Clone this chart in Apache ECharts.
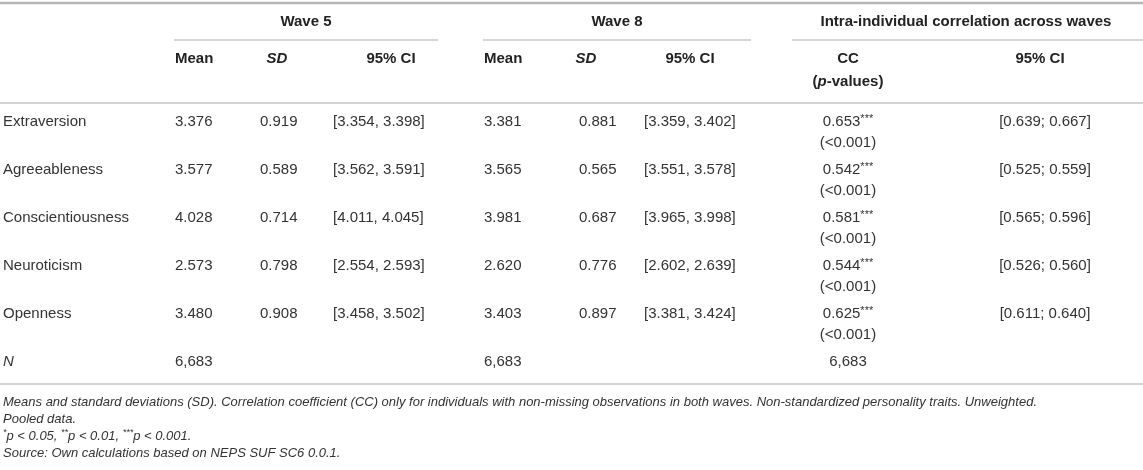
<!DOCTYPE html>
<html>
<head>
    <meta charset="utf-8">
    <title>Personality traits across waves</title>
    <script src="https://cdn.jsdelivr.net/npm/echarts@6/dist/echarts.min.js"></script>
    <style>
        html, body { margin: 0; padding: 0; background: #fff; }
        #table { width: 1143px; height: 470px; }
    </style>
</head>
<body>
    <div id="table"></div>
    <script>
        // table data
        const traits = ['Extraversion', 'Agreeableness', 'Conscientiousness', 'Neuroticism', 'Openness'];
        const w5Mean = ['3.376', '3.577', '4.028', '2.573', '3.480'];
        const w5SD = ['0.919', '0.589', '0.714', '0.798', '0.908'];
        const w5CI = ['[3.354, 3.398]', '[3.562, 3.591]', '[4.011, 4.045]', '[2.554, 2.593]', '[3.458, 3.502]'];
        const w8Mean = ['3.381', '3.565', '3.981', '2.620', '3.403'];
        const w8SD = ['0.881', '0.565', '0.687', '0.776', '0.897'];
        const w8CI = ['[3.359, 3.402]', '[3.551, 3.578]', '[3.965, 3.998]', '[2.602, 2.639]', '[3.381, 3.424]'];
        const ccValue = ['0.653', '0.542', '0.581', '0.544', '0.625'];
        const ccStars = ['***', '***', '***', '***', '***'];
        const ccP = ['(<0.001)', '(<0.001)', '(<0.001)', '(<0.001)', '(<0.001)'];
        const ccCI = ['[0.639; 0.667]', '[0.525; 0.559]', '[0.565; 0.596]', '[0.526; 0.560]', '[0.611; 0.640]'];
        const nCount = ['6,683', '6,683', '6,683'];
        const spanHeaders = ['Wave 5', 'Wave 8', 'Intra-individual correlation across waves'];

        const FONT = '"Liberation Sans", Arial, Helvetica, sans-serif';
        const TXT = '#333';
        const W = 1143;

        // layout
        const spans = [[174, 438], [483, 751], [792, 1143]];
        const rowY0 = 122, rowStep = 48, subStep = 21;
        const colLeft = { label: 3, m5: 175, sd5: 260, ci5: 333, m8: 484, sd8: 579, ci8: 644 };
        const ccX = 848, cciX = 1045;

        const g = [];
        function hline(y, x1, x2, color, w) {
            g.push({ type: 'line', shape: { x1: x1, y1: y, x2: x2, y2: y },
                     style: { stroke: color, lineWidth: w }, silent: true });
        }
        function text(str, x, y, align, opt) {
            opt = opt || {};
            g.push({ type: 'text', silent: true, style: Object.assign({
                text: str, x: x, y: y, align: align, verticalAlign: 'middle',
                fill: TXT, fontFamily: FONT, fontSize: 15
            }, opt) });
        }
        const bold = { fontWeight: 'bold', fill: '#222' };

        // rules
        hline(3, 0, W, '#b5b5b5', 2.5);
        spans.forEach(s => hline(40, s[0], s[1], '#c9c9c9', 1.5));
        hline(103, 0, W, '#c4c4c4', 1.5);
        hline(384, 0, W, '#c4c4c4', 1.5);

        // header
        spanHeaders.forEach((h, i) => text(h, i < 2 ? (spans[i][0] + spans[i][1]) / 2 : 966, 22, 'center', bold));
        text('Mean', colLeft.m5, 59, 'left', bold);
        text('SD', 277, 59, 'center', Object.assign({ fontStyle: 'italic' }, bold));
        text('95% CI', 391, 59, 'center', bold);
        text('Mean', colLeft.m8, 59, 'left', bold);
        text('SD', 586, 59, 'center', Object.assign({ fontStyle: 'italic' }, bold));
        text('95% CI', 690, 59, 'center', bold);
        text('CC', ccX, 59, 'center', bold);
        text('{b|(}{i|p}{b|-values)}', ccX, 82, 'center', {
            fontWeight: 'bold', fill: '#222',
            rich: {
                b: { fontFamily: FONT, fontSize: 15, fontWeight: 'bold', fill: '#222' },
                i: { fontFamily: FONT, fontSize: 15, fontWeight: 'bold', fontStyle: 'italic', fill: '#222' }
            }
        });
        text('95% CI', 1040, 59, 'center', bold);

        // body rows
        traits.forEach((t, i) => {
            const y = rowY0 + i * rowStep;
            text(t, colLeft.label, y, 'left');
            text(w5Mean[i], colLeft.m5, y, 'left');
            text(w5SD[i], colLeft.sd5, y, 'left');
            text(w5CI[i], colLeft.ci5, y, 'left');
            text(w8Mean[i], colLeft.m8, y, 'left');
            text(w8SD[i], colLeft.sd8, y, 'left');
            text(w8CI[i], colLeft.ci8, y, 'left');
            text('{v|' + ccValue[i] + '}{s|' + ccStars[i] + '}', ccX, y, 'center', {
                rich: {
                    v: { fontFamily: FONT, fontSize: 15, fill: TXT, lineHeight: 18 },
                    s: { fontFamily: FONT, fontSize: 11, fill: TXT, lineHeight: 10, verticalAlign: 'top' }
                }
            });
            text(ccP[i], ccX, y + subStep, 'center');
            text(ccCI[i], cciX, y, 'center');
        });

        // N row
        const nY = rowY0 + traits.length * rowStep;
        text('N', colLeft.label, nY, 'left', { fontStyle: 'italic' });
        text(nCount[0], colLeft.m5, nY, 'left');
        text(nCount[1], colLeft.m8, nY, 'left');
        text(nCount[2], ccX, nY, 'center');

        // notes
        const noteStyle = { fontSize: 13, fontStyle: 'italic' };
        text('Means and standard deviations (SD). Correlation coefficient (CC) only for individuals with non-missing observations in both waves. Non-standardized personality traits. Unweighted.', 3, 402, 'left', noteStyle);
        text('Pooled data.', 3, 419, 'left', noteStyle);
        const it = { fontFamily: FONT, fontSize: 13, fontStyle: 'italic', fill: TXT, lineHeight: 16 };
        const sup = { fontFamily: FONT, fontSize: 9, fontStyle: 'italic', fill: TXT, lineHeight: 8, verticalAlign: 'top' };
        text('{s|*}{t|p < 0.05, }{s|**}{t|p < 0.01, }{s|***}{t|p < 0.001.}', 3, 436, 'left', { rich: { t: it, s: sup } });
        text('Source: Own calculations based on NEPS SUF SC6 0.0.1.', 3, 453, 'left', noteStyle);

        const chart = echarts.init(document.getElementById('table'));
        chart.setOption({ animation: false, graphic: g });
    </script>
</body>
</html>
